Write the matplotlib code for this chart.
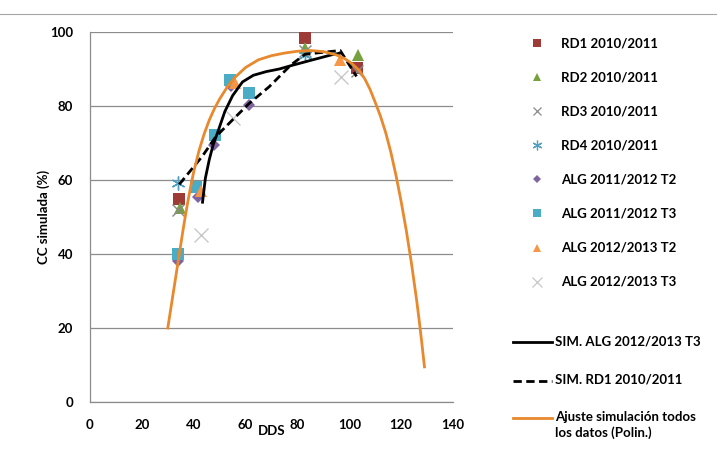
import matplotlib
matplotlib.use("Agg")
import matplotlib.pyplot as plt
from matplotlib.lines import Line2D

plt.rcParams['font.family'] = ['Lato', 'DejaVu Sans']

# Observed canopy cover (%) against growing degree days (DDS)
rd1_x = [34.4, 83.0, 103.0]
rd1_y = [55.0, 98.3, 90.2]
rd2_x = [34.6, 83.0, 103.2]
rd2_y = [52.5, 95.6, 93.8]
rd3_x = [34.0, 83.0, 103.0]
rd3_y = [52.0, 95.0, 89.5]
rd4_x = [34.1, 82.8]
rd4_y = [59.1, 93.8]
alg12t2_x = [34.0, 41.6, 48.0, 54.4, 61.2]
alg12t2_y = [38.0, 55.5, 69.5, 85.3, 80.2]
alg12t3_x = [33.8, 41.0, 48.3, 54.0, 61.4]
alg12t3_y = [40.0, 58.2, 72.2, 87.0, 83.6]
alg13t2_x = [42.7, 55.8, 96.5]
alg13t2_y = [57.0, 86.3, 92.3]
alg13t3_x = [42.7, 55.0, 96.8]
alg13t3_y = [45.1, 76.8, 87.8]

# Simulated curves
sim_alg_x = [43.4, 44.5, 46.0, 47.5, 49.2, 52.0, 55.0, 58.8, 63.0, 68.0, 73.0, 78.0, 86.0, 93.0, 96.5]
sim_alg_y = [54.0, 60.5, 65.5, 69.5, 72.8, 78.5, 82.8, 86.5, 88.3, 89.3, 90.0, 91.0, 92.5, 93.8, 94.3]
sim_rd1_x = [34.4, 43.4, 48.5, 56.2, 61.4, 69.1, 77.5, 83.0, 96.5, 102.8]
sim_rd1_y = [58.8, 66.5, 71.7, 77.1, 80.7, 85.2, 91.1, 94.0, 95.0, 88.0]

# Polynomial fit of all simulations
fit_x = [30, 31, 32, 33, 34, 35, 36, 37, 38, 39, 40, 42, 44, 46, 48, 50, 53, 56, 60, 65,
         70, 75, 80, 85, 90, 95, 98, 101, 104, 106, 108, 110, 112, 114, 116, 118, 120,
         122, 124, 126, 127, 128, 129]
fit_y = [20, 24.5, 29, 33.5, 38, 42.5, 47, 51.2, 55.2, 58.8, 62.2, 67.8, 72.4, 76.2, 79.3,
         81.9, 85.2, 87.8, 90.4, 92.5, 93.6, 94.3, 94.8, 95.0, 94.7, 93.8, 92.9, 91.5, 89.5,
         87.3, 84.5, 81.0, 77.3, 72.9, 67.6, 61.3, 54.2, 46.3, 37.4, 27.4, 21.8, 15.8, 9.5]

x_ticks = [0, 20, 40, 60, 80, 100, 120, 140]
y_ticks = [0, 20, 40, 60, 80, 100]

W, H = 717, 467
fig = plt.figure(figsize=(W / 100, H / 100), dpi=100)
ax = fig.add_axes([90 / W, 1 - 402 / H, (453 - 90) / W, (402 - 32) / H])

grid_c = '#8c8c8c'
ax.set_xlim(0, 140)
ax.set_ylim(0, 100)
ax.set_xticks(x_ticks)
ax.set_yticks(y_ticks)
ax.yaxis.grid(True, color=grid_c, linewidth=0.9)
ax.set_axisbelow(True)
for s in ['top', 'right']:
    ax.spines[s].set_visible(False)
for s in ['left', 'bottom']:
    ax.spines[s].set_color(grid_c)
    ax.spines[s].set_linewidth(0.9)
ax.tick_params(length=0, pad=12, labelsize=9.5)
for lab in ax.get_xticklabels() + ax.get_yticklabels():
    lab.set_fontweight('bold')
ax.set_xlabel('DDS', fontsize=9.5, fontweight='bold', labelpad=-4)
ax.set_ylabel('CC simulada (%)', fontsize=9.5, fontweight='bold', labelpad=0)

series = [
    ('RD1 2010/2011', rd1_x, rd1_y, dict(marker='s', color='#9e3b37', ms=9)),
    ('RD2 2010/2011', rd2_x, rd2_y, dict(marker='^', color='#77a03f', ms=9)),
    ('RD3 2010/2011', rd3_x, rd3_y, dict(marker='x', color='#8a8a8a', ms=9, mew=1.0)),
    ('RD4 2010/2011', rd4_x, rd4_y, dict(marker=(6, 2, 0), color='#4f9fbf', ms=10, mew=1.0)),
    ('ALG 2011/2012 T2', alg12t2_x, alg12t2_y, dict(marker='D', color='#8064a2', ms=6.5)),
    ('ALG 2011/2012 T3', alg12t3_x, alg12t3_y, dict(marker='s', color='#4bacc6', ms=9)),
    ('ALG 2012/2013 T2', alg13t2_x, alg13t2_y, dict(marker='^', color='#f79646', ms=9)),
    ('ALG 2012/2013 T3', alg13t3_x, alg13t3_y, dict(marker='x', color='#c8c8c8', ms=10, mew=1.0)),
]
for name, xs, ys, st in series:
    ax.plot(xs, ys, linestyle='none', marker=st['marker'], color=st['color'],
            markersize=st['ms'], markeredgewidth=st.get('mew', 0.0), zorder=3)

lines = [
    ('SIM. ALG 2012/2013 T3', sim_alg_x, sim_alg_y, dict(color='black', ls='-')),
    ('SIM. RD1 2010/2011', sim_rd1_x, sim_rd1_y, dict(color='black', ls=(0, (3, 1.6)))),
    ('Ajuste simulación todos\nlos datos (Polin.)', fit_x, fit_y, dict(color='#e8892e', ls='-')),
]
for name, xs, ys, st in lines:
    ax.plot(xs, ys, color=st['color'], linestyle=st['ls'], linewidth=2.0, zorder=4)

# Legend drawn at fixed figure positions
def fx(px):
    return px / W

def fy(py):
    return 1 - py / H

# top edge of the chart-area frame
fig.add_artist(Line2D([0, 1], [fy(14), fy(14)], color='#a6a6a6', linewidth=0.8,
                      transform=fig.transFigure))

marker_rows = [43, 77, 111, 145, 179, 213, 248, 282]
for (name, xs, ys, st), py in zip(series, marker_rows):
    fig.add_artist(Line2D([fx(537)], [fy(py)], linestyle='none', marker=st['marker'],
                          color=st['color'], markersize=st['ms'] * 0.7,
                          markeredgewidth=st.get('mew', 0.0) * 0.9,
                          transform=fig.transFigure))
    fig.text(fx(561), fy(py), name, fontsize=9.5, fontweight='bold', va='center', ha='left')

line_rows = [342, 381, 418]
for (name, xs, ys, st), py in zip(lines, line_rows):
    fig.add_artist(Line2D([fx(513), fx(552)], [fy(py), fy(py)], color=st['color'],
                          linestyle=st['ls'], linewidth=2.0, transform=fig.transFigure))
    fig.text(fx(555), fy(py - 7), name, fontsize=9.5, fontweight='bold', va='top', ha='left',
             linespacing=1.35)

fig.savefig('out.png', dpi=100)
